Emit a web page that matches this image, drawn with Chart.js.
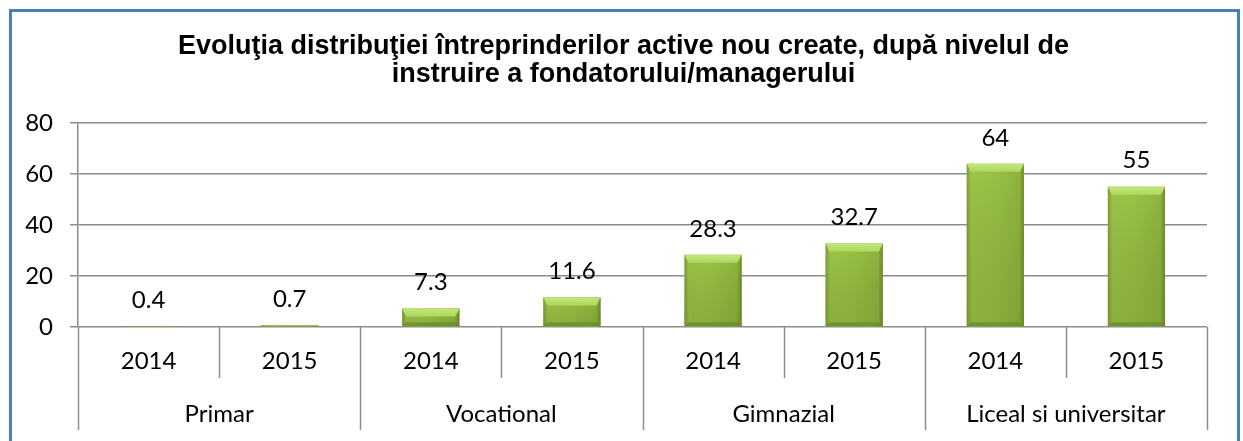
<!DOCTYPE html>
<html>
<head>
<meta charset="utf-8">
<script src="https://cdn.jsdelivr.net/npm/chart.js@4.4.0/dist/chart.umd.min.js"></script>
<style>
    html, body { margin: 0; padding: 0; background: #fff; overflow: hidden; }
    #wrap { position: relative; width: 1243px; height: 441px; }
    #frame {
        position: absolute; left: 9px; top: 9px; width: 1225px; height: 500px;
        border: 3px solid #4A7EBB; pointer-events: none;
    }
</style>
</head>
<body>
<div id="wrap">
    <canvas id="chart" width="1243" height="441"></canvas>
    <div id="frame"></div>
</div>
<script>
// data
const groups = ["Primar", "Vocational", "Gimnazial", "Liceal si universitar"];
const years = ["2014", "2015"];
const values = [0.4, 0.7, 7.3, 11.6, 28.3, 32.7, 64, 55];
const yTicks = [0, 20, 40, 60, 80];
const titleLines = [
    "Evoluţia distribuţiei întreprinderilor active nou create, după nivelul de",
    "instruire a fondatorului/managerului"
];

const labelFont = "Lato, 'Open Sans', sans-serif";
const labelSize = 24;
const lineColor = "#8c8c8c";

// one x label per bar: years repeated for every group
const xLabels = [];
groups.forEach(() => years.forEach(y => xLabels.push(y)));

// title centred on the whole frame (the built-in one centres left of the right padding)
const frameTitle = {
    id: "frameTitle",
    afterDraw(chart) {
        const ctx = chart.ctx;
        ctx.save();
        ctx.font = "bold 27px 'Liberation Sans', Arial, sans-serif";
        ctx.fillStyle = "#000";
        ctx.textAlign = "center";
        ctx.textBaseline = "middle";
        titleLines.forEach((line, i) => {
            ctx.fillText(line, chart.width / 2 + 2, 47 + i * 28);
        });
        ctx.restore();
    }
};

// bevelled green bars, drawn over the plain bars
const bevelBars = {
    id: "bevelBars",
    afterDatasetsDraw(chart) {
        const ctx = chart.ctx;
        chart.getDatasetMeta(0).data.forEach(bar => {
            const x0 = bar.x - bar.width / 2;
            const x1 = bar.x + bar.width / 2;
            const top = bar.y;
            const base = bar.base;
            const h = base - top;
            if (h <= 0) return;
            const bt = Math.min(8, h / 2);
            const bs = Math.min(4, h / 2);
            ctx.save();
            const g = ctx.createLinearGradient(x0, 0, x1, 0);
            g.addColorStop(0, "#7F9F37");
            g.addColorStop(0.08, "#9DC548");
            g.addColorStop(0.5, "#99C244");
            g.addColorStop(0.92, "#8FB63E");
            g.addColorStop(1, "#6F8E2C");
            ctx.fillStyle = g;
            ctx.fillRect(x0, top, x1 - x0, h);
            // darker towards the base
            const gv = ctx.createLinearGradient(0, top, 0, base);
            gv.addColorStop(0, "rgba(0,0,0,0)");
            gv.addColorStop(1, "rgba(60,80,20,0.18)");
            ctx.fillStyle = gv;
            ctx.fillRect(x0, top, x1 - x0, h);
            // top bevel
            const gt = ctx.createLinearGradient(0, top, 0, top + bt);
            gt.addColorStop(0, "#C4E77E");
            gt.addColorStop(1, "#AED65C");
            ctx.fillStyle = gt;
            ctx.beginPath();
            ctx.moveTo(x0, top);
            ctx.lineTo(x1, top);
            ctx.lineTo(x1 - bs, top + bt);
            ctx.lineTo(x0 + bs, top + bt);
            ctx.closePath();
            ctx.fill();
            // bottom bevel
            ctx.fillStyle = "rgba(100,130,35,0.6)";
            ctx.beginPath();
            ctx.moveTo(x0, base);
            ctx.lineTo(x1, base);
            ctx.lineTo(x1 - bs, base - bs);
            ctx.lineTo(x0 + bs, base - bs);
            ctx.closePath();
            ctx.fill();
            ctx.restore();
        });
    }
};

// value labels above bars
const valueLabels = {
    id: "valueLabels",
    afterDatasetsDraw(chart) {
        const ctx = chart.ctx;
        ctx.save();
        ctx.font = labelSize + "px " + labelFont;
        ctx.fillStyle = "#000";
        ctx.textAlign = "center";
        ctx.textBaseline = "middle";
        chart.getDatasetMeta(0).data.forEach((bar, i) => {
            ctx.fillText(String(values[i]), bar.x, bar.y - 26);
        });
        ctx.restore();
    }
};

// two-level category axis: separators and group names
const groupAxis = {
    id: "groupAxis",
    afterDraw(chart) {
        const ctx = chart.ctx;
        const xs = chart.scales.x;
        const bottom = chart.chartArea.bottom;
        ctx.save();
        ctx.strokeStyle = lineColor;
        ctx.lineWidth = 1.5;
        for (let i = 0; i <= xLabels.length; i++) {
            const px = Math.round(xs.getPixelForValue(i - 0.5)) + 0.5;
            const isGroupEdge = i % years.length === 0;
            ctx.beginPath();
            ctx.moveTo(px, bottom);
            ctx.lineTo(px, isGroupEdge ? bottom + 103 : bottom + 51);
            ctx.stroke();
        }
        ctx.font = labelSize + "px " + labelFont;
        ctx.fillStyle = "#000";
        ctx.textAlign = "center";
        ctx.textBaseline = "middle";
        groups.forEach((name, gi) => {
            const a = xs.getPixelForValue(gi * years.length - 0.5);
            const b = xs.getPixelForValue((gi + 1) * years.length - 0.5);
            ctx.fillText(name, (a + b) / 2, bottom + 87);
        });
        ctx.restore();
    }
};

const ctx = document.getElementById("chart").getContext("2d");
const chart = new Chart(ctx, {
    type: "bar",
    data: {
        labels: xLabels,
        datasets: [{
            data: values,
            backgroundColor: "#9BBB59",
            borderWidth: 0,
            categoryPercentage: 1,
            barPercentage: 0.405
        }]
    },
    options: {
        responsive: false,
        animation: false,
        layout: { padding: { left: 0, right: 36, top: 123, bottom: 0 } },
        plugins: {
            legend: { display: false },
            tooltip: { enabled: false },
            title: { display: false }
        },
        scales: {
            x: {
                offset: true,
                grid: { display: false, drawTicks: false },
                border: { display: false },
                ticks: {
                    color: "#000",
                    font: { family: labelFont, size: labelSize },
                    padding: 20,
                    maxRotation: 0,
                    autoSkip: false
                },
                afterFit(scale) { scale.height = 114; }
            },
            y: {
                min: 0,
                max: 80,
                afterBuildTicks(scale) { scale.ticks = yTicks.map(v => ({ value: v })); },
                grid: { color: lineColor, lineWidth: 1.5, tickLength: 8 },
                border: { color: lineColor, width: 1.5 },
                ticks: {
                    color: "#000",
                    font: { family: labelFont, size: labelSize },
                    padding: 17
                },
                afterFit(scale) { scale.width = 78; }
            }
        }
    },
    plugins: [bevelBars, valueLabels, groupAxis, frameTitle]
});
</script>
</body>
</html>
